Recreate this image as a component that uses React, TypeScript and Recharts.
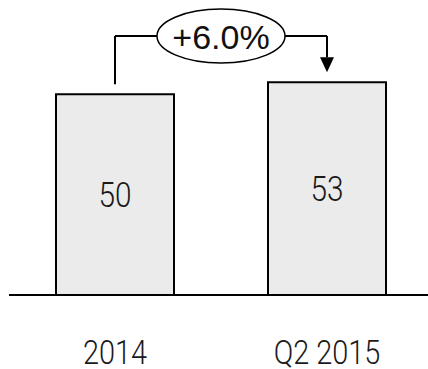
import React from "react";
import { BarChart, Bar, XAxis, YAxis, LabelList, ReferenceLine } from "recharts";

const categories = ["2014", "Q2 2015"];
const values = [50, 53];
const changeLabel = "+6.0%";

// connector levels in value units
const connectorGap = 2.5;
const connectorTop = 64.5;

const data = categories.map((name, i) => ({ name, value: values[i] }));

const THIN = "Roboto, 'Liberation Sans', Arial, sans-serif";
const SANS = "'Liberation Sans', Arial, sans-serif";

// narrow light text, like a condensed face
const NarrowText = ({ x, y, size = 35, children }: any) => (
  <text
    transform={`translate(${x},${y}) scale(0.85,1)`}
    textAnchor="middle"
    fontFamily={THIN}
    fontWeight={300}
    fontSize={size}
    fill="#1a1a1a"
  >
    {children}
  </text>
);

const AxisTick = (props: any) => {
  const { x, y, payload } = props;
  return (
    <NarrowText x={x} y={y + 23} size={34}>
      {payload.value}
    </NarrowText>
  );
};

const BarValue = (props: any) => {
  const { x, y, width, height, value } = props;
  return (
    <NarrowText x={x + width / 2} y={y + height / 2 + 12.5}>
      {value}
    </NarrowText>
  );
};

const ArrowShape = (props: any) => {
  const { x1, y1, x2, y2 } = props;
  const head = 15;
  return (
    <g>
      <line x1={x1} y1={y1} x2={x2} y2={y2 - head} stroke="#000" strokeWidth={2} />
      <polygon points={`${x2 - 7},${y2 - head} ${x2 + 7},${y2 - head} ${x2},${y2}`} fill="#000" />
    </g>
  );
};

const EllipseLabel = (props: any) => {
  const vb = props.viewBox || {};
  const cx = vb.x + (vb.width || 0) / 2;
  const cy = vb.y + (vb.height || 0) / 2;
  return (
    <g>
      <ellipse cx={cx} cy={cy} rx={64} ry={27} fill="#fff" stroke="#000" strokeWidth={1.5} />
      <text
        x={cx}
        y={cy + 12.5}
        textAnchor="middle"
        fontFamily={SANS}
        fontSize={34}
        fill="#111"
      >
        {changeLabel}
      </text>
    </g>
  );
};

export default function App() {
  return (
    <div style={{ position: "absolute", left: 0, top: 0, background: "#fff" }}>
      <BarChart
        width={428}
        height={369}
        data={data}
        margin={{ top: 14, right: -5, left: 9, bottom: 0 }}
      >
        <XAxis
          dataKey="name"
          height={74}
          tickLine={false}
          tickSize={0}
          tickMargin={46}
          axisLine={{ stroke: "#000", strokeWidth: 2 }}
          tick={<AxisTick />}
        />
        <YAxis hide domain={[0, 70]} />
        <Bar
          dataKey="value"
          barSize={118}
          fill="#ebebeb"
          stroke="#000"
          strokeWidth={2}
          isAnimationActive={false}
        >
          <LabelList dataKey="value" content={<BarValue />} />
        </Bar>
        <ReferenceLine
          segment={[
            { x: categories[0], y: values[0] + connectorGap },
            { x: categories[0], y: connectorTop },
          ]}
          stroke="#000"
          strokeWidth={2}
          ifOverflow="visible"
        />
        <ReferenceLine
          segment={[
            { x: categories[0], y: connectorTop },
            { x: categories[1], y: connectorTop },
          ]}
          stroke="#000"
          strokeWidth={2}
          ifOverflow="visible"
        />
        <ReferenceLine
          segment={[
            { x: categories[1], y: connectorTop },
            { x: categories[1], y: values[1] + connectorGap },
          ]}
          ifOverflow="visible"
          shape={ArrowShape}
        />
        <ReferenceLine
          segment={[
            { x: categories[0], y: connectorTop },
            { x: categories[1], y: connectorTop },
          ]}
          stroke="none"
          ifOverflow="visible"
          label={<EllipseLabel />}
        />
      </BarChart>
    </div>
  );
}
